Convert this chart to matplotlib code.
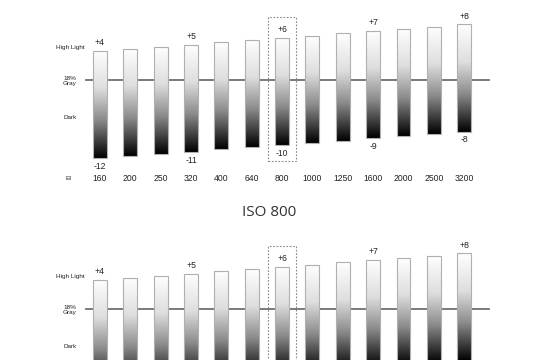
import numpy as np
import matplotlib
matplotlib.use("Agg")
import matplotlib.pyplot as plt
from matplotlib.colors import LinearSegmentedColormap
from matplotlib.patches import Rectangle

# exposure latitude per EI, in stops above / below 18% gray
ei_labels = ["160", "200", "250", "320", "400", "640", "800",
             "1000", "1250", "1600", "2000", "2500", "3200"]
highlight = [4, 4.33, 4.67, 5, 5.33, 5.67, 6, 6.33, 6.67, 7, 7.33, 7.67, 8]
dark = [-12, -11.67, -11.33, -11, -10.67, -10.33, -10,
        -9.67, -9.33, -9, -8.67, -8.33, -8]
top_marks = {0: "+4", 3: "+5", 6: "+6", 9: "+7", 12: "+8"}
bottom_marks = {0: "-12", 3: "-11", 6: "-10", 9: "-9", 12: "-8"}
native_idx = 6
title = "ISO 800"

W, H = 537, 360
px_x0, px_dx = 100.0, 30.35      # pixel x of first bar, bar spacing
px_y0, px_dy = 78.0, 6.7         # pixel y of 0 stops, pixels per stop
shift = 229                      # vertical offset of the repeated chart

bar_w = 0.46
gray_y = -0.3

cmap = LinearSegmentedColormap.from_list(
    "fade", [(0.0, "#ffffff"), (0.35, "#dedede"), (0.65, "#8a8a8a"),
             (1.0, "#000000")])
grad = np.linspace(0, 1, 256).reshape(-1, 1)

xlim = ((0 - px_x0) / px_dx, (W - px_x0) / px_dx)
ylim = ((px_y0 - H) / px_dy, px_y0 / px_dy)

fig = plt.figure(figsize=(W / 100, H / 100), dpi=100)
fig.patch.set_facecolor("white")
font = ["Liberation Sans", "DejaVu Sans"]


def draw_chart(ax, lower_text=True):
    ax.set_xlim(*xlim)
    ax.set_ylim(*ylim)
    ax.axis("off")
    x = np.arange(len(ei_labels))

    ax.plot([-bar_w, len(x) - 1 + 0.82], [gray_y, gray_y],
            color="#707070", lw=1.3, zorder=1)

    for i in x:
        ax.imshow(grad, cmap=cmap, aspect="auto", zorder=2,
                  extent=[i - bar_w / 2, i + bar_w / 2, dark[i], highlight[i]],
                  interpolation="bilinear")
        ax.add_patch(Rectangle((i - bar_w / 2, dark[i]), bar_w,
                               highlight[i] - dark[i], fill=False,
                               ec="#b0b0b0", lw=0.8, zorder=3))
        if lower_text:
            ax.text(i, -15.07, ei_labels[i], ha="center", va="center",
                    fontsize=6.2, color="#222222", family=font)

    for i, s in top_marks.items():
        ax.annotate(s, (i, highlight[i]), xytext=(0, 6), textcoords="offset points",
                    ha="center", va="center", fontsize=6.2, color="#222222",
                    family=font)
    if lower_text:
        for i, s in bottom_marks.items():
            ax.annotate(s, (i, dark[i]), xytext=(0, -6), textcoords="offset points",
                        ha="center", va="center", fontsize=6.2, color="#222222",
                        family=font)

    # dashed frame around the native ISO
    ax.add_patch(Rectangle((native_idx - 0.465, dark[native_idx] - 2.34), 0.93,
                           highlight[native_idx] - dark[native_idx] + 5.4,
                           fill=False, ec="#888888", lw=0.8, ls=(0, (1.5, 1.5)),
                           zorder=4))

    lbl = dict(ha="center", va="center", fontsize=4.6, color="#222222", family=font)
    ax.text(-0.99, 4.52, "High Light", **lbl)
    ax.text(-0.99, -0.45, "18%\nGray", linespacing=1.1, **lbl)
    ax.text(-0.99, -5.93, "Dark", **lbl)
    if lower_text:
        ax.text(-1.05, -15.07, "EI", **lbl)


ax1 = fig.add_axes([0, 0, 1, 1])
draw_chart(ax1)
# the repeated chart runs off the bottom edge, only its upper part shows
ax2 = fig.add_axes([0, -shift / H, 1, 1])
draw_chart(ax2, lower_text=False)

fig.text(269 / W, 1 - 213 / H, title, ha="center", va="center",
         fontsize=11, color="#333333", family=["Open Sans", "DejaVu Sans"])

fig.savefig("out.png", dpi=100)
